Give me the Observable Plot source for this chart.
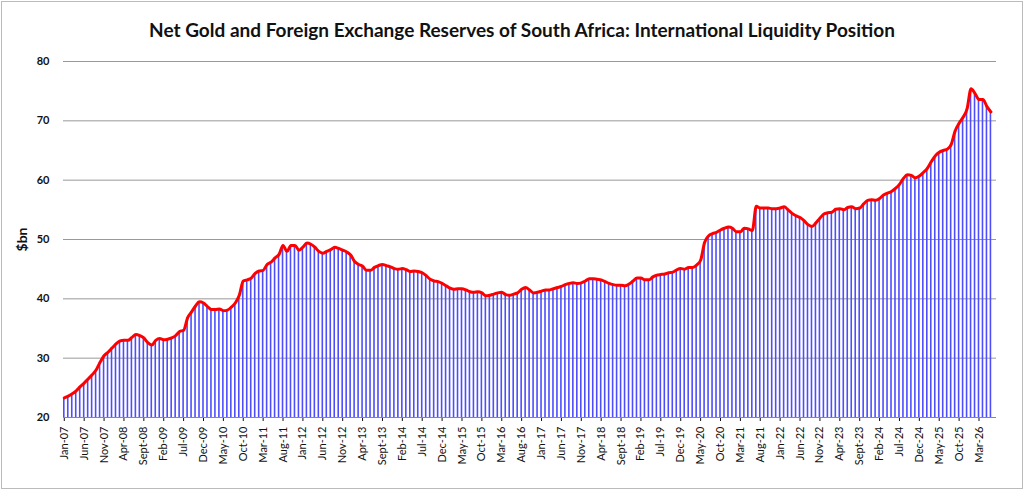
<!DOCTYPE html>
<html><head><meta charset="utf-8">
<script src="https://cdn.jsdelivr.net/npm/d3@7"></script>
<script src="https://cdn.jsdelivr.net/npm/@observablehq/plot@0.6"></script>
<style>
body{margin:0;background:#fff;font-family:Lato,"Open Sans",sans-serif;}
#wrap{width:1020px;height:486px;border:1px solid #bbb;margin:1px;position:relative;overflow:hidden}
#title{height:49px;line-height:56px;text-align:center;font-weight:bold;font-size:19px;color:#111;padding-left:20px}
</style></head><body>
<div id="wrap"><div id="title">Net Gold and Foreign Exchange Reserves of South Africa: International Liquidity Position</div><div id="chart"></div></div>
<script>
const monthNames = ["Jan","Feb","Mar","Apr","May","Jun","Jul","Aug","Sept","Oct","Nov","Dec"];
const startYear = 2007;
const values = [
23.3,23.6,24.0,24.5,25.2,25.8,26.5,27.2,28.0,29.3,30.4,31.0,
31.7,32.4,32.9,33.0,33.0,33.5,34.0,33.8,33.4,32.6,32.2,33.0,
33.3,33.1,33.2,33.4,33.8,34.5,34.7,36.8,37.8,38.8,39.5,39.3,
38.7,38.2,38.2,38.3,38.0,38.1,38.6,39.3,40.6,43.0,43.2,43.5,
44.3,44.7,44.8,45.8,46.2,46.9,47.5,49.0,48.0,49.0,49.0,48.2,
48.7,49.4,49.2,48.7,48.0,47.7,48.0,48.3,48.7,48.5,48.2,47.9,
47.4,46.3,45.8,45.5,44.8,44.8,45.3,45.6,45.8,45.6,45.4,45.1,
45.0,45.1,44.9,44.6,44.7,44.6,44.4,43.9,43.3,43.0,42.9,42.6,
42.2,41.8,41.6,41.7,41.7,41.5,41.2,41.1,41.2,41.0,40.5,40.6,
40.8,41.0,41.1,40.7,40.6,40.8,41.0,41.6,41.9,41.5,41.0,41.1,
41.3,41.5,41.5,41.7,41.9,42.1,42.4,42.6,42.7,42.6,42.7,43.0,
43.4,43.4,43.3,43.2,42.9,42.6,42.4,42.3,42.3,42.2,42.5,43.0,
43.5,43.5,43.2,43.2,43.7,44.0,44.1,44.2,44.4,44.5,44.9,45.1,
45.0,45.3,45.3,45.7,46.5,49.5,50.6,51.0,51.2,51.6,51.9,52.1,
51.9,51.3,51.3,51.9,51.8,51.5,55.6,55.3,55.3,55.3,55.2,55.2,
55.3,55.5,55.0,54.4,54.0,53.7,53.2,52.5,52.2,52.8,53.6,54.3,
54.5,54.6,55.1,55.2,55.0,55.4,55.5,55.2,55.3,56.0,56.6,56.7,
56.6,56.9,57.5,57.8,58.1,58.6,59.3,60.3,60.9,60.8,60.4,60.7,
61.3,62.0,63.1,64.1,64.7,65.0,65.2,66.0,68.3,69.6,70.6,72.0,
75.4,74.6,73.6,73.6,72.4,71.5
];
const labels = values.map((v,i)=>monthNames[i%12]+"-"+String((startYear+Math.floor(i/12))%100).padStart(2,"0"));
const tickLabels = labels.filter((d,i)=>i%5===0);
const data = values.map((v,i)=>({m:labels[i], v}));

const chart = Plot.plot({
  width:1020, height:437,
  marginLeft:61, marginRight:26, marginTop:10, marginBottom:71,
  style:{fontFamily:"Lato, 'Open Sans', sans-serif", fontSize:"11px", color:"#111"},
  x:{type:"band", domain:labels, padding:0.6, align:0, label:null, ticks:tickLabels, tickRotate:-90, tickSize:4},
  y:{domain:[20,80], ticks:[20,30,40,50,60,70,80], label:"$bn", labelAnchor:"center", labelArrow:"none", labelOffset:46, tickSize:0, tickPadding:14},
  marks:[
    Plot.gridY([30,40,50,60,70,80],{stroke:"#999",strokeOpacity:1,strokeWidth:1}),
    Plot.barY(data,{x:"m", y1:20, y2:"v", fill:"#4d4dff"}),
    Plot.ruleY([20],{stroke:"#888"}),
    Plot.ruleX([labels[0]],{x:labels[0], dx:-1, y1:20, y2:80, stroke:"#888"}),
    Plot.lineY(data,{x:"m", y:"v", stroke:"#ff0000", strokeWidth:3, curve:"monotone-x"})
  ]
});
document.getElementById("chart").appendChild(chart);
d3.select(chart).selectAll("[aria-label='y-axis label'] text").style("font-weight","bold").style("font-size","14px");
d3.select(chart).selectAll("[aria-label='y-axis tick label'] text").style("font-weight","bold");
</script>
</body></html>
